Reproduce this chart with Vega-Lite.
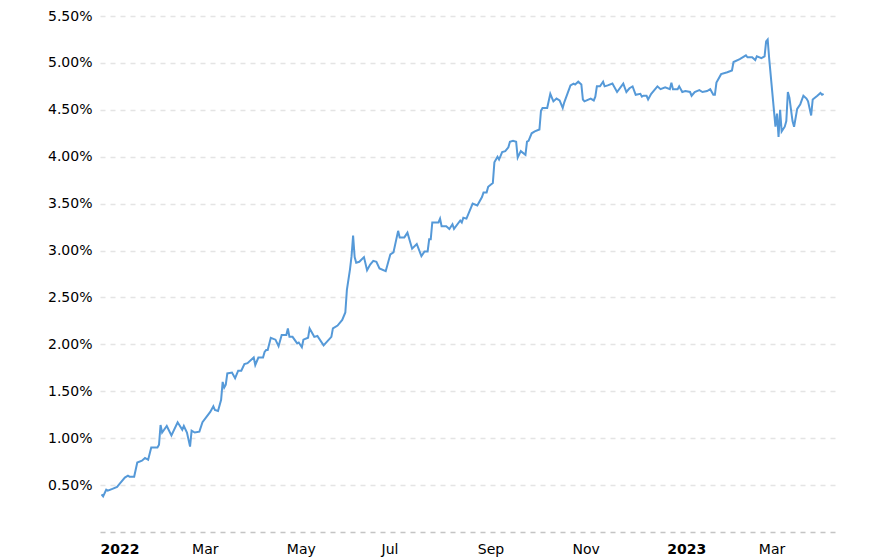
{
  "$schema": "https://vega.github.io/schema/vega-lite/v6.json",
  "width": 736,
  "height": 516,
  "autosize": {"type": "none"},
  "padding": {"left": 100, "top": 16, "right": 52, "bottom": 28},
  "background": "white",
  "config": {"view": {"stroke": null}, "font": "DejaVu Sans"},
  "data": {"values": [
    {"d":"2022-01-02","v":0.40},{"d":"2022-01-03","v":0.38},{"d":"2022-01-05","v":0.45},{"d":"2022-01-06","v":0.44},{"d":"2022-01-09","v":0.46},{"d":"2022-01-12","v":0.48},{"d":"2022-01-14","v":0.52},{"d":"2022-01-17","v":0.58},{"d":"2022-01-19","v":0.60},{"d":"2022-01-20","v":0.59},{"d":"2022-01-23","v":0.59},{"d":"2022-01-25","v":0.74},{"d":"2022-01-28","v":0.76},{"d":"2022-01-30","v":0.79},
    {"d":"2022-02-01","v":0.77},{"d":"2022-02-03","v":0.90},{"d":"2022-02-07","v":0.90},{"d":"2022-02-08","v":0.93},{"d":"2022-02-09","v":1.14},{"d":"2022-02-10","v":1.06},{"d":"2022-02-13","v":1.13},{"d":"2022-02-16","v":1.03},{"d":"2022-02-20","v":1.17},{"d":"2022-02-23","v":1.09},{"d":"2022-02-24","v":1.13},{"d":"2022-02-26","v":1.06},{"d":"2022-02-28","v":0.91},
    {"d":"2022-03-01","v":1.08},{"d":"2022-03-03","v":1.06},{"d":"2022-03-06","v":1.07},{"d":"2022-03-08","v":1.17},{"d":"2022-03-13","v":1.28},{"d":"2022-03-15","v":1.34},{"d":"2022-03-16","v":1.30},{"d":"2022-03-18","v":1.29},{"d":"2022-03-20","v":1.41},{"d":"2022-03-21","v":1.60},{"d":"2022-03-22","v":1.54},{"d":"2022-03-23","v":1.57},{"d":"2022-03-24","v":1.69},{"d":"2022-03-27","v":1.70},{"d":"2022-03-29","v":1.64},{"d":"2022-03-31","v":1.72},
    {"d":"2022-04-02","v":1.72},{"d":"2022-04-04","v":1.79},{"d":"2022-04-06","v":1.80},{"d":"2022-04-10","v":1.86},{"d":"2022-04-11","v":1.78},{"d":"2022-04-13","v":1.86},{"d":"2022-04-16","v":1.86},{"d":"2022-04-17","v":1.92},{"d":"2022-04-18","v":1.94},{"d":"2022-04-19","v":1.94},{"d":"2022-04-21","v":2.07},{"d":"2022-04-24","v":2.05},{"d":"2022-04-26","v":1.98},{"d":"2022-04-28","v":2.10},
    {"d":"2022-05-01","v":2.10},{"d":"2022-05-02","v":2.17},{"d":"2022-05-03","v":2.08},{"d":"2022-05-05","v":2.08},{"d":"2022-05-08","v":2.01},{"d":"2022-05-09","v":2.02},{"d":"2022-05-11","v":1.97},{"d":"2022-05-12","v":2.05},{"d":"2022-05-15","v":2.07},{"d":"2022-05-16","v":2.17},{"d":"2022-05-19","v":2.08},{"d":"2022-05-21","v":2.09},{"d":"2022-05-25","v":1.99},{"d":"2022-05-30","v":2.08},{"d":"2022-05-31","v":2.17},
    {"d":"2022-06-03","v":2.20},{"d":"2022-06-06","v":2.26},{"d":"2022-06-08","v":2.34},{"d":"2022-06-09","v":2.58},{"d":"2022-06-11","v":2.80},{"d":"2022-06-12","v":2.94},{"d":"2022-06-13","v":3.16},{"d":"2022-06-14","v":2.93},{"d":"2022-06-15","v":2.87},{"d":"2022-06-17","v":2.88},{"d":"2022-06-20","v":2.93},{"d":"2022-06-22","v":2.79},{"d":"2022-06-24","v":2.85},{"d":"2022-06-26","v":2.89},{"d":"2022-06-28","v":2.88},{"d":"2022-06-30","v":2.81},
    {"d":"2022-07-04","v":2.78},{"d":"2022-07-07","v":2.96},{"d":"2022-07-09","v":2.98},{"d":"2022-07-12","v":3.21},{"d":"2022-07-13","v":3.14},{"d":"2022-07-16","v":3.14},{"d":"2022-07-18","v":3.19},{"d":"2022-07-21","v":3.02},{"d":"2022-07-24","v":3.07},{"d":"2022-07-27","v":2.94},{"d":"2022-07-29","v":2.99},{"d":"2022-07-31","v":2.99},
    {"d":"2022-08-01","v":3.12},{"d":"2022-08-02","v":3.12},{"d":"2022-08-03","v":3.30},{"d":"2022-08-07","v":3.30},{"d":"2022-08-08","v":3.34},{"d":"2022-08-09","v":3.26},{"d":"2022-08-12","v":3.26},{"d":"2022-08-14","v":3.23},{"d":"2022-08-16","v":3.28},{"d":"2022-08-17","v":3.23},{"d":"2022-08-21","v":3.32},{"d":"2022-08-22","v":3.30},{"d":"2022-08-23","v":3.35},{"d":"2022-08-25","v":3.34},{"d":"2022-08-27","v":3.42},{"d":"2022-08-29","v":3.50},
    {"d":"2022-09-01","v":3.48},{"d":"2022-09-04","v":3.57},{"d":"2022-09-05","v":3.62},{"d":"2022-09-07","v":3.62},{"d":"2022-09-08","v":3.68},{"d":"2022-09-11","v":3.72},{"d":"2022-09-12","v":3.94},{"d":"2022-09-14","v":4.00},{"d":"2022-09-15","v":3.97},{"d":"2022-09-17","v":4.05},{"d":"2022-09-19","v":4.06},{"d":"2022-09-21","v":4.10},{"d":"2022-09-22","v":4.16},{"d":"2022-09-24","v":4.17},{"d":"2022-09-26","v":4.16},{"d":"2022-09-27","v":3.99},{"d":"2022-09-29","v":4.06},
    {"d":"2022-10-02","v":4.02},{"d":"2022-10-03","v":4.16},{"d":"2022-10-04","v":4.17},{"d":"2022-10-06","v":4.25},{"d":"2022-10-08","v":4.27},{"d":"2022-10-11","v":4.29},{"d":"2022-10-12","v":4.49},{"d":"2022-10-13","v":4.52},{"d":"2022-10-16","v":4.52},{"d":"2022-10-18","v":4.67},{"d":"2022-10-20","v":4.59},{"d":"2022-10-22","v":4.62},{"d":"2022-10-24","v":4.60},{"d":"2022-10-26","v":4.52},{"d":"2022-10-27","v":4.58},{"d":"2022-10-29","v":4.67},{"d":"2022-10-31","v":4.76},
    {"d":"2022-11-02","v":4.78},{"d":"2022-11-03","v":4.77},{"d":"2022-11-05","v":4.80},{"d":"2022-11-07","v":4.77},{"d":"2022-11-08","v":4.61},{"d":"2022-11-09","v":4.59},{"d":"2022-11-13","v":4.62},{"d":"2022-11-15","v":4.60},{"d":"2022-11-16","v":4.64},{"d":"2022-11-17","v":4.75},{"d":"2022-11-19","v":4.75},{"d":"2022-11-21","v":4.80},{"d":"2022-11-22","v":4.75},{"d":"2022-11-24","v":4.76},{"d":"2022-11-27","v":4.78},{"d":"2022-11-30","v":4.69},
    {"d":"2022-12-04","v":4.78},{"d":"2022-12-06","v":4.69},{"d":"2022-12-08","v":4.73},{"d":"2022-12-10","v":4.75},{"d":"2022-12-12","v":4.66},{"d":"2022-12-15","v":4.67},{"d":"2022-12-16","v":4.64},{"d":"2022-12-17","v":4.65},{"d":"2022-12-19","v":4.65},{"d":"2022-12-20","v":4.61},{"d":"2022-12-22","v":4.67},{"d":"2022-12-26","v":4.75},{"d":"2022-12-28","v":4.72},{"d":"2022-12-31","v":4.74},
    {"d":"2023-01-03","v":4.72},{"d":"2023-01-04","v":4.79},{"d":"2023-01-05","v":4.72},{"d":"2023-01-08","v":4.72},{"d":"2023-01-09","v":4.75},{"d":"2023-01-11","v":4.69},{"d":"2023-01-13","v":4.70},{"d":"2023-01-16","v":4.69},{"d":"2023-01-17","v":4.65},{"d":"2023-01-19","v":4.69},{"d":"2023-01-22","v":4.71},{"d":"2023-01-24","v":4.69},{"d":"2023-01-27","v":4.70},{"d":"2023-01-29","v":4.72},{"d":"2023-01-31","v":4.66},
    {"d":"2023-02-01","v":4.66},{"d":"2023-02-02","v":4.79},{"d":"2023-02-05","v":4.88},{"d":"2023-02-09","v":4.90},{"d":"2023-02-12","v":4.92},{"d":"2023-02-13","v":5.01},{"d":"2023-02-17","v":5.04},{"d":"2023-02-21","v":5.08},{"d":"2023-02-22","v":5.06},{"d":"2023-02-25","v":5.06},{"d":"2023-02-27","v":5.03},{"d":"2023-02-28","v":5.07},
    {"d":"2023-03-03","v":5.05},{"d":"2023-03-05","v":5.07},{"d":"2023-03-06","v":5.23},{"d":"2023-03-07","v":5.25},{"d":"2023-03-08","v":5.04},{"d":"2023-03-12","v":4.32},{"d":"2023-03-13","v":4.46},{"d":"2023-03-14","v":4.21},{"d":"2023-03-15","v":4.50},{"d":"2023-03-16","v":4.27},{"d":"2023-03-18","v":4.32},{"d":"2023-03-19","v":4.38},{"d":"2023-03-20","v":4.69},{"d":"2023-03-21","v":4.63},{"d":"2023-03-23","v":4.38},{"d":"2023-03-24","v":4.32},{"d":"2023-03-26","v":4.51},{"d":"2023-03-28","v":4.56},{"d":"2023-03-30","v":4.65},
    {"d":"2023-04-01","v":4.62},{"d":"2023-04-02","v":4.59},{"d":"2023-04-04","v":4.44},{"d":"2023-04-05","v":4.61},{"d":"2023-04-08","v":4.65},{"d":"2023-04-10","v":4.68},{"d":"2023-04-11","v":4.66},{"d":"2023-04-12","v":4.67}
  ]},
  "mark": {"type": "line", "color": "#5599d8", "strokeWidth": 2, "interpolate": "linear"},
  "encoding": {
    "x": {
      "field": "d", "type": "temporal", "title": null,
      "scale": {"type": "utc", "domain": [{"year": 2022, "month": 1, "date": 1, "utc": true}, {"year": 2023, "month": 4, "date": 20, "utc": true}]},
      "axis": {
        "values": [
          {"year": 2022, "month": 1, "date": 1, "utc": true},
          {"year": 2022, "month": 3, "date": 1, "utc": true},
          {"year": 2022, "month": 5, "date": 1, "utc": true},
          {"year": 2022, "month": 7, "date": 1, "utc": true},
          {"year": 2022, "month": 9, "date": 1, "utc": true},
          {"year": 2022, "month": 11, "date": 1, "utc": true},
          {"year": 2023, "month": 1, "date": 1, "utc": true},
          {"year": 2023, "month": 3, "date": 1, "utc": true}
        ],
        "labelExpr": "utcmonth(datum.value) == 0 ? utcFormat(datum.value, '%Y') : utcFormat(datum.value, '%b')",
        "labelFontWeight": {"condition": {"test": "utcmonth(datum.value) == 0", "value": "bold"}, "value": "normal"},
        "labelAlign": "left",
        "labelFontSize": 14,
        "labelColor": "#000000",
        "labelFont": "DejaVu Sans",
        "labelPadding": 10,
        "ticks": false,
        "grid": false,
        "domain": true,
        "domainColor": "#c4c4c4",
        "domainDash": [5, 5],
        "domainWidth": 1.5,
        "labelOverlap": false
      }
    },
    "y": {
      "field": "v", "type": "quantitative", "title": null,
      "scale": {"domain": [0, 5.5], "nice": false, "zero": true},
      "axis": {
        "values": [0.5, 1, 1.5, 2, 2.5, 3, 3.5, 4, 4.5, 5, 5.5],
        "labelExpr": "format(datum.value, '.2f') + '%'",
        "labelFontSize": 14,
        "labelColor": "#000000",
        "labelFont": "DejaVu Sans",
        "labelPadding": 8,
        "ticks": false,
        "domain": false,
        "grid": true,
        "gridColor": "#e4e4e4",
        "gridDash": [5, 5],
        "gridWidth": 1.5
      }
    }
  }
}
